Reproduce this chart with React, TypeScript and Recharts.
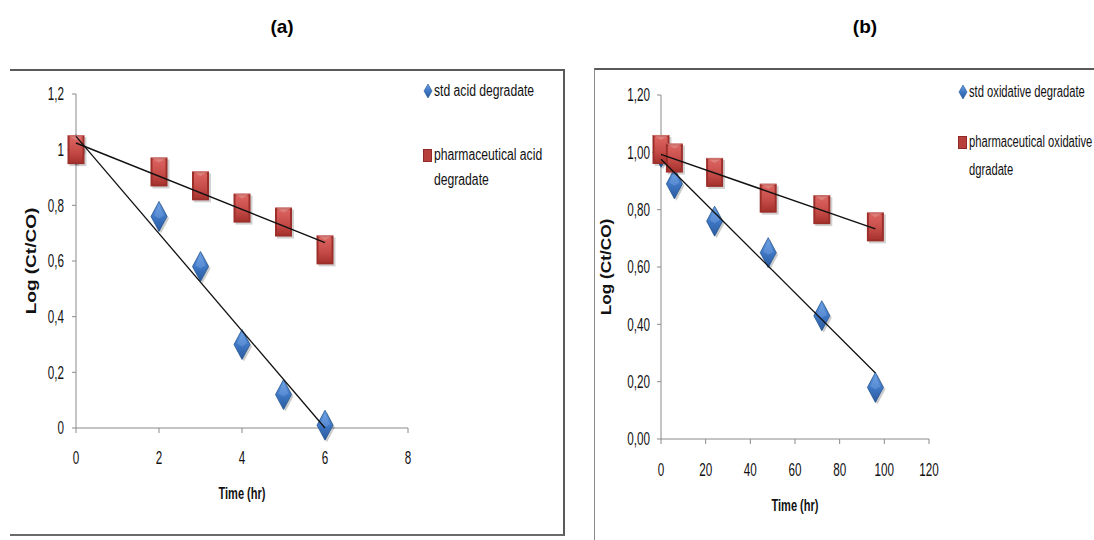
import React from 'react';
import { ScatterChart, Scatter, XAxis, YAxis, Label } from 'recharts';

// (a) acid degradation
const acidTime = [0, 2, 3, 4, 5, 6];
const acidStd = [1.0, 0.76, 0.58, 0.3, 0.12, 0.01];
const acidPharma = [1.0, 0.92, 0.87, 0.79, 0.74, 0.64];
const acidTrendX = [0, 6];
const acidStdTrend = [1.048, 0.0];
const acidPharmaTrend = [1.024, 0.666];
const acidXTicks = [0, 2, 4, 6, 8];
const acidYTicks = [0, 0.2, 0.4, 0.6, 0.8, 1, 1.2];
const acidLegend = ['std acid degradate', 'pharmaceutical acid', 'degradate'];

// (b) oxidative degradation
const oxTime = [0, 6, 24, 48, 72, 96];
const oxStd = [1.0, 0.89, 0.76, 0.65, 0.43, 0.18];
const oxPharma = [1.01, 0.98, 0.93, 0.84, 0.8, 0.74];
const oxTrendX = [0, 96];
const oxStdTrend = [0.976, 0.23];
const oxPharmaTrend = [0.993, 0.733];
const oxXTicks = [0, 20, 40, 60, 80, 100, 120];
const oxYTicks = [0, 0.2, 0.4, 0.6, 0.8, 1, 1.2];
const oxLegend = ['std oxidative degradate', 'pharmaceutical oxidative', 'dgradate'];

const ARIAL = "'Liberation Sans', Arial, sans-serif";
const SQUEEZE = 0.65;

const toPoints = (xs: number[], ys: number[]) => xs.map((x, i) => ({ x, y: ys[i] }));

function Diamond(props: any) {
  const { cx, cy } = props;
  if (cx == null || cy == null) return <g />;
  const w = 8;
  const h = 15;
  const pts = (dx: number, dy: number) =>
    `${cx + dx},${cy - h + dy} ${cx + w + dx},${cy + dy} ${cx + dx},${cy + h + dy} ${cx - w + dx},${cy + dy}`;
  return (
    <g>
      <polygon points={pts(2, 2)} fill="#000" opacity={0.2} />
      <polygon points={pts(0, 0)} fill="url(#blueGrad)" stroke="#24558f" strokeWidth={0.8} />
      <polygon
        points={`${cx},${cy - h + 3} ${cx + w - 3},${cy - 1} ${cx},${cy + 2} ${cx - w + 3},${cy - 1}`}
        fill="#7fabe6"
        opacity={0.4}
      />
    </g>
  );
}

function Square(props: any) {
  const { cx, cy } = props;
  if (cx == null || cy == null) return <g />;
  const w = 17;
  const h = 29;
  const x = cx - w / 2;
  const y = cy - h / 2;
  return (
    <g>
      <rect x={x + 2} y={y + 2} width={w} height={h} fill="#000" opacity={0.18} />
      <rect x={x} y={y} width={w} height={h} fill="#9d2f2b" />
      <rect x={x + 2} y={y + 2} width={w - 4} height={h - 4} fill="url(#redGrad)" />
      <polygon points={`${x},${y} ${x + w},${y} ${cx},${y + 5}`} fill="#e08b88" opacity={0.7} />
    </g>
  );
}

function None() {
  return <g />;
}

// condensed tick text, like the narrow Calibri of the original
function NarrowTick(props: any) {
  const { x, y, payload, axis, fmt } = props;
  const isY = axis === 'y';
  return (
    <text
      x={0}
      y={0}
      transform={`translate(${x},${y}) scale(${SQUEEZE},1)`}
      textAnchor={isY ? 'end' : 'middle'}
      dy={isY ? '0.35em' : '0.71em'}
      fontSize={18}
      fontFamily={ARIAL}
      fill="#111"
    >
      {fmt ? fmt(payload.value) : payload.value}
    </text>
  );
}

function YTitle(props: any) {
  const { viewBox, offset, size, stretch } = props;
  const cx = viewBox.x + offset;
  const cy = viewBox.y + viewBox.height / 2;
  return (
    <text
      x={0}
      y={0}
      transform={`translate(${cx},${cy}) rotate(-90) scale(${stretch},1)`}
      textAnchor="middle"
      dominantBaseline="central"
      fontSize={size}
      fontWeight="bold"
      fontFamily={ARIAL}
      fill="#111"
    >
      Log (Ct/CO)
    </text>
  );
}

function XTitle(props: any) {
  const { viewBox, dy } = props;
  const cx = viewBox.x + viewBox.width / 2;
  const cy = viewBox.y + dy;
  return (
    <text
      x={0}
      y={0}
      transform={`translate(${cx},${cy}) scale(${SQUEEZE},1)`}
      textAnchor="middle"
      dominantBaseline="central"
      fontSize={17}
      fontWeight="bold"
      fontFamily={ARIAL}
      fill="#111"
    >
      Time (hr)
    </text>
  );
}

interface PanelProps {
  left: number;
  width: number;
  margin: { top: number; right: number; bottom: number; left: number };
  yAxisWidth: number;
  yLabelOffset: number;
  yLabelSize: number;
  yLabelStretch: number;
  yTickMargin: number;
  xTickMargin: number;
  xTitleDy: number;
  time: number[];
  std: number[];
  pharma: number[];
  trendX: number[];
  stdTrend: number[];
  pharmaTrend: number[];
  xTicks: number[];
  yTicks: number[];
  yFormat: (v: number) => string;
}

function Panel(p: PanelProps) {
  return (
    <div style={{ position: 'absolute', left: p.left, top: 0 }}>
      <ScatterChart width={p.width} height={540} margin={p.margin}>
        <XAxis
          type="number"
          dataKey="x"
          domain={[p.xTicks[0], p.xTicks[p.xTicks.length - 1]]}
          ticks={p.xTicks}
          interval={0}
          height={80}
          tick={<NarrowTick axis="x" />}
          tickSize={5}
          tickMargin={p.xTickMargin}
          stroke="#8a8a8a"
        >
          <Label content={<XTitle dy={p.xTitleDy} />} />
        </XAxis>
        <YAxis
          type="number"
          dataKey="y"
          domain={[0, 1.2]}
          ticks={p.yTicks}
          interval={0}
          width={p.yAxisWidth}
          tick={<NarrowTick axis="y" fmt={p.yFormat} />}
          tickSize={4}
          tickMargin={p.yTickMargin}
          stroke="#8a8a8a"
        >
          <Label content={<YTitle offset={p.yLabelOffset} size={p.yLabelSize} stretch={p.yLabelStretch} />} />
        </YAxis>
        <Scatter data={toPoints(p.time, p.std)} shape={<Diamond />} isAnimationActive={false} />
        <Scatter data={toPoints(p.time, p.pharma)} shape={<Square />} isAnimationActive={false} />
        <Scatter
          data={toPoints(p.trendX, p.stdTrend)}
          shape={<None />}
          line={{ stroke: '#111', strokeWidth: 1.3 }}
          isAnimationActive={false}
        />
        <Scatter
          data={toPoints(p.trendX, p.pharmaTrend)}
          shape={<None />}
          line={{ stroke: '#111', strokeWidth: 1.5 }}
          isAnimationActive={false}
        />
      </ScatterChart>
    </div>
  );
}

function LegendBlock({
  left,
  top,
  labels,
  gap,
  lineGap,
  scale,
}: {
  left: number;
  top: number;
  labels: string[];
  gap: number;
  lineGap: number;
  scale: number;
}) {
  const text: React.CSSProperties = {
    position: 'absolute',
    fontFamily: ARIAL,
    fontSize: 16,
    color: '#111',
    whiteSpace: 'nowrap',
    lineHeight: '18px',
    transform: `scaleX(${scale})`,
    transformOrigin: 'left center',
  };
  return (
    <div style={{ position: 'absolute', left, top }}>
      <svg width={10} height={14} style={{ position: 'absolute', left: -5, top: -7 }}>
        <polygon points="5,0 9,7 5,14 1,7" fill="url(#blueGrad)" stroke="#24558f" strokeWidth={0.6} />
      </svg>
      <div style={{ ...text, left: 6, top: -9 }}>{labels[0]}</div>
      <svg width={9} height={13} style={{ position: 'absolute', left: -5, top: gap - 6 }}>
        <rect x={0.5} y={0.5} width={8} height={12} fill="#b8403c" stroke="#8e2a27" />
      </svg>
      <div style={{ ...text, left: 6, top: gap - 9 }}>{labels[1]}</div>
      <div style={{ ...text, left: 6, top: gap + lineGap - 9 }}>{labels[2]}</div>
    </div>
  );
}

export default function App() {
  const acidFormat = (v: number) => String(v).replace('.', ',');
  const oxFormat = (v: number) => v.toFixed(2).replace('.', ',');
  return (
    <div
      style={{
        position: 'absolute',
        left: 0,
        top: 0,
        width: 1094,
        height: 540,
        background: '#fff',
        overflow: 'hidden',
      }}
    >
      <svg width={0} height={0} style={{ position: 'absolute' }}>
        <defs>
          <linearGradient id="blueGrad" x1="0" y1="0" x2="0" y2="1">
            <stop offset="0%" stopColor="#6a9fe4" />
            <stop offset="50%" stopColor="#3f78c6" />
            <stop offset="100%" stopColor="#2a5a9e" />
          </linearGradient>
          <linearGradient id="redGrad" x1="0" y1="0" x2="0" y2="1">
            <stop offset="0%" stopColor="#dc6460" />
            <stop offset="60%" stopColor="#c44a46" />
            <stop offset="100%" stopColor="#a8332f" />
          </linearGradient>
        </defs>
      </svg>

      <div style={{ position: 'absolute', left: 262, top: 16, width: 40, textAlign: 'center', fontFamily: ARIAL, fontWeight: 'bold', fontSize: 19 }}>
        (a)
      </div>
      <div style={{ position: 'absolute', left: 845, top: 16, width: 40, textAlign: 'center', fontFamily: ARIAL, fontWeight: 'bold', fontSize: 19 }}>
        (b)
      </div>

      {/* panel frames */}
      <div style={{ position: 'absolute', left: 10, top: 69, width: 553, height: 463, borderTop: '2px solid #5a5a5a', borderRight: '2px solid #5a5a5a', borderBottom: '2px solid #6a6a6a' }} />
      <div style={{ position: 'absolute', left: 594, top: 68, width: 520, height: 500, borderTop: '2px solid #5a5a5a', borderLeft: '1.5px solid #8a8a8a' }} />

      <Panel
        left={0}
        width={563}
        margin={{ top: 94, right: 155, bottom: 32, left: 26 }}
        yAxisWidth={50}
        yLabelOffset={11}
        yLabelSize={15}
        yLabelStretch={1.27}
        yTickMargin={8}
        xTickMargin={18}
        xTitleDy={65}
        time={acidTime}
        std={acidStd}
        pharma={acidPharma}
        trendX={acidTrendX}
        stdTrend={acidStdTrend}
        pharmaTrend={acidPharmaTrend}
        xTicks={acidXTicks}
        yTicks={acidYTicks}
        yFormat={acidFormat}
      />
      <Panel
        left={594}
        width={500}
        margin={{ top: 95, right: 165, bottom: 21, left: 7 }}
        yAxisWidth={60}
        yLabelOffset={19}
        yLabelSize={14}
        yLabelStretch={1.23}
        yTickMargin={7}
        xTickMargin={19}
        xTitleDy={66}
        time={oxTime}
        std={oxStd}
        pharma={oxPharma}
        trendX={oxTrendX}
        stdTrend={oxStdTrend}
        pharmaTrend={oxPharmaTrend}
        xTicks={oxXTicks}
        yTicks={oxYTicks}
        yFormat={oxFormat}
      />

      <LegendBlock left={428} top={91} labels={acidLegend} gap={64} lineGap={25} scale={0.76} />
      <LegendBlock left={963} top={92} labels={oxLegend} gap={50} lineGap={28} scale={0.7} />
    </div>
  );
}
